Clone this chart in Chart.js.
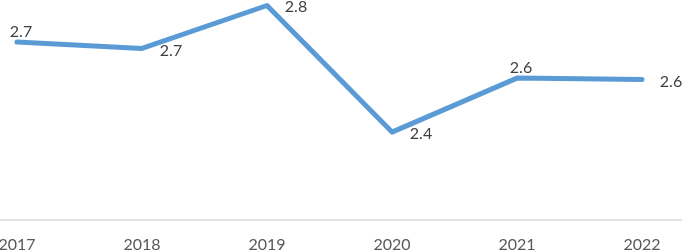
<!DOCTYPE html>
<html>
<head>
<meta charset="utf-8">
<script src="https://cdn.jsdelivr.net/npm/chart.js@4"></script>
<style>
  html, body { margin: 0; padding: 0; background: #ffffff; }
  #wrap { position: relative; width: 682px; height: 250px; }
</style>
</head>
<body>
<div id="wrap"><canvas id="c"></canvas></div>
<script>
const categories = ['2017', '2018', '2019', '2020', '2021', '2022'];
const seriesValues = [2.693, 2.672, 2.815, 2.393, 2.573, 2.568];

// label placement per point (style only): dx, dy of label centre from the point
const labelOffsets = [[4, -11], [29, 1.5], [29, 1], [29, 1.5], [4, -11], [29, 2]];

const FONT = 'Lato, "Open Sans", sans-serif';

const axisLinePlugin = {
  id: 'fullAxisLine',
  beforeDatasetsDraw(chart) {
    const ctx = chart.ctx;
    const y = chart.scales.x.top;
    ctx.save();
    ctx.strokeStyle = '#d9d9d9';
    ctx.lineWidth = 1.5;
    ctx.beginPath();
    ctx.moveTo(0, y);
    ctx.lineTo(chart.width, y);
    ctx.stroke();
    ctx.restore();
  }
};

const dataLabelPlugin = {
  id: 'dataLabels',
  afterDatasetsDraw(chart) {
    const ctx = chart.ctx;
    const meta = chart.getDatasetMeta(0);
    const ds = chart.data.datasets[0];
    ctx.save();
    ctx.font = '16px ' + FONT;
    ctx.fillStyle = '#404040';
    ctx.textAlign = 'center';
    ctx.textBaseline = 'alphabetic';
    meta.data.forEach((pt, i) => {
      const [dx, dy] = labelOffsets[i];
      const txt = ds.data[i].toFixed(1);
      ctx.fillText(txt, pt.x + dx, pt.y + dy + 16 * 0.36);
    });
    ctx.restore();
  }
};

new Chart(document.getElementById('c'), {
  type: 'line',
  data: {
    labels: categories,
    datasets: [{
      data: seriesValues,
      borderColor: '#5B9BD5',
      borderWidth: 5,
      borderJoinStyle: 'round',
      borderCapStyle: 'round',
      pointRadius: 0,
      tension: 0,
      clip: false,
      fill: false
    }]
  },
  options: {
    responsive: true,
    maintainAspectRatio: false,
    animation: false,
    layout: { padding: { left: 17, right: 40, top: 0, bottom: 0 } },
    plugins: {
      legend: { display: false },
      tooltip: { enabled: false }
    },
    scales: {
      x: {
        type: 'category',
        offset: false,
        grid: { display: false, drawTicks: false },
        border: { display: false },
        ticks: {
          color: '#595959',
          font: { family: FONT, size: 16 },
          padding: 15,
          maxRotation: 0,
          autoSkip: false
        },
        afterFit(scale) {
          scale.height = 30;
          scale.paddingLeft = 0;
          scale.paddingRight = 0;
        }
      },
      y: {
        display: false,
        min: 2.1,
        max: 2.1 + 220 / 300
      }
    }
  },
  plugins: [axisLinePlugin, dataLabelPlugin]
});
</script>
</body>
</html>
